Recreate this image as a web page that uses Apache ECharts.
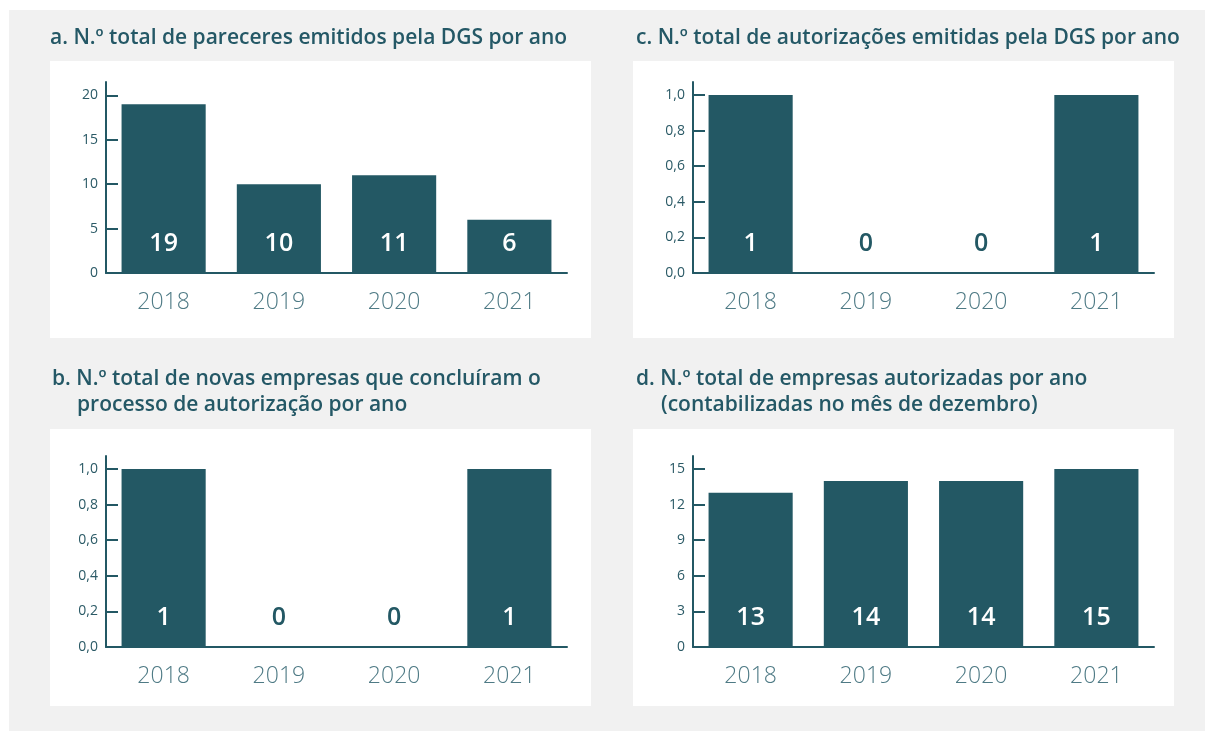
<!DOCTYPE html>
<html>
<head>
<meta charset="utf-8">
<script src="https://cdn.jsdelivr.net/npm/echarts@6/dist/echarts.min.js"></script>
<style>
  html, body { margin: 0; padding: 0; background: #ffffff; }
  #chart { width: 1205px; height: 731px; }
</style>
</head>
<body>
<div id="chart"></div>
<script>
// dados
const years = ['2018', '2019', '2020', '2021'];
const pareceres = [19, 10, 11, 6];
const autorizacoes = [1, 0, 0, 1];
const novasEmpresas = [1, 0, 0, 1];
const empresasAutorizadas = [13, 14, 14, 15];

const ticksPareceres = [0, 5, 10, 15, 20];
const ticksUnit = [0, 0.2, 0.4, 0.6, 0.8, 1];
const ticksEmpresas = [0, 3, 6, 9, 12, 15];

const titleA = 'a. N.º total de pareceres emitidos pela DGS por ano';
const titleB1 = 'b. N.º total de novas empresas que concluíram o';
const titleB2 = 'processo de autorização por ano';
const titleC = 'c. N.º total de autorizações emitidas pela DGS por ano';
const titleD1 = 'd. N.º total de empresas autorizadas por ano';
const titleD2 = '(contabilizadas no mês de dezembro)';

const teal = '#235864';
const font = 'Open Sans';

const chart = echarts.init(document.getElementById('chart'));

function titleItem(text, left, top) {
  return {
    text: text, left: left, top: top, padding: 0,
    textStyle: { fontFamily: font, fontSize: 21, fontWeight: 600, color: '#245866' }
  };
}

function grid(left, top) {
  return { left: left, top: top, width: 461, height: 191 };
}

function xAxis(idx) {
  return {
    type: 'category', gridIndex: idx, data: years,
    axisLine: { lineStyle: { color: teal, width: 2 } },
    axisTick: { inside: true, length: 4, lineStyle: { color: teal, width: 2 } },
    axisLabel: { fontFamily: font, fontSize: 23, fontWeight: 300, color: '#4e7a85', margin: 18 }
  };
}

function yAxis(idx, max, ticks, decimals) {
  return {
    type: 'value', gridIndex: idx, min: 0, max: max,
    splitLine: { show: false },
    axisLine: { show: true, lineStyle: { color: teal, width: 2 } },
    axisTick: { show: true, inside: true, length: 12, customValues: ticks, lineStyle: { color: teal, width: 2 } },
    axisLabel: {
      customValues: ticks, fontFamily: font, fontSize: 14, color: '#2b5a66', margin: 8,
      formatter: v => decimals ? v.toFixed(decimals).replace('.', ',') : String(v)
    }
  };
}

function series(idx, values) {
  return {
    type: 'bar', xAxisIndex: idx, yAxisIndex: idx,
    barCategoryGap: '27%',
    itemStyle: { color: teal },
    data: values.map(v => ({ value: v, label: { color: v === 0 ? teal : '#ffffff' } })),
    label: {
      show: true, position: 'insideBottom', distance: 17,
      fontFamily: font, fontSize: 25, fontWeight: 600
    }
  };
}

const option = {
  animation: false,
  graphic: [
    { type: 'rect', shape: { x: 9, y: 10, width: 1196, height: 721 }, style: { fill: '#f1f1f1' }, z: -10 },
    { type: 'rect', shape: { x: 50, y: 61, width: 541, height: 277 }, style: { fill: '#ffffff' }, z: -9 },
    { type: 'rect', shape: { x: 633, y: 61, width: 541, height: 277 }, style: { fill: '#ffffff' }, z: -9 },
    { type: 'rect', shape: { x: 50, y: 429, width: 541, height: 277 }, style: { fill: '#ffffff' }, z: -9 },
    { type: 'rect', shape: { x: 633, y: 429, width: 541, height: 277 }, style: { fill: '#ffffff' }, z: -9 }
  ],
  title: [
    titleItem(titleA, 50, 28),
    titleItem(titleC, 636, 28),
    titleItem(titleB1, 52, 369),
    titleItem(titleB2, 77, 395),
    titleItem(titleD1, 636, 369),
    titleItem(titleD2, 661, 395)
  ],
  grid: [grid(106, 82), grid(693, 82), grid(106, 456), grid(693, 456)],
  xAxis: [xAxis(0), xAxis(1), xAxis(2), xAxis(3)],
  yAxis: [
    yAxis(0, 21.5, ticksPareceres, 0),
    yAxis(1, 1.073, ticksUnit, 1),
    yAxis(2, 1.073, ticksUnit, 1),
    yAxis(3, 16.1, ticksEmpresas, 0)
  ],
  series: [
    series(0, pareceres),
    series(1, autorizacoes),
    series(2, novasEmpresas),
    series(3, empresasAutorizadas)
  ]
};

chart.setOption(option);
</script>
</body>
</html>
